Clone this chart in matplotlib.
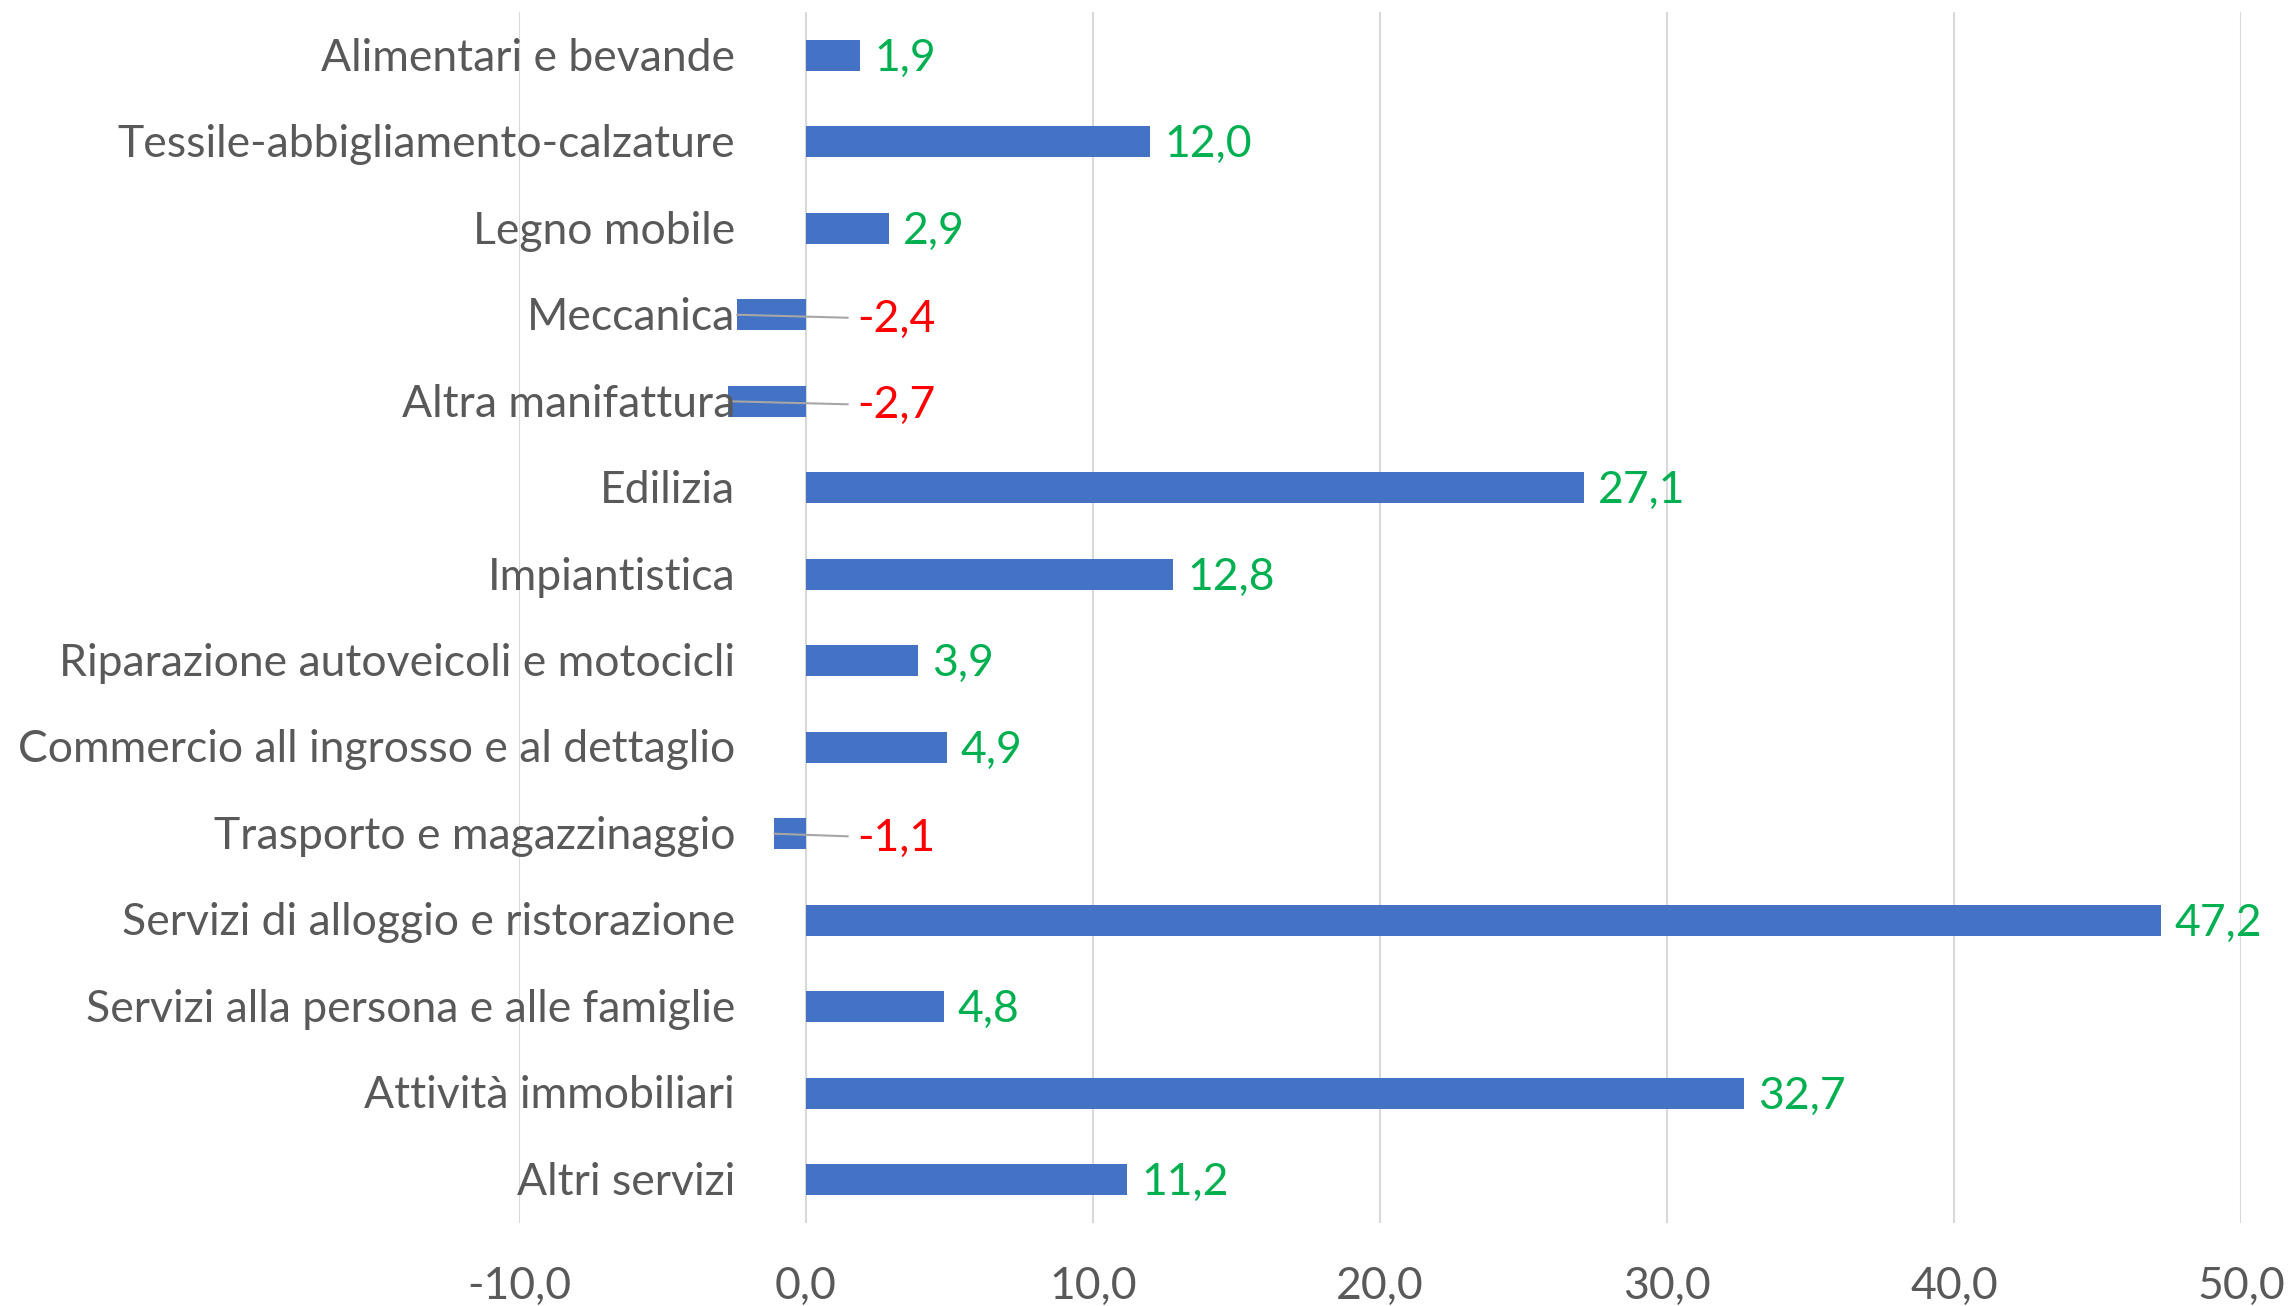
import matplotlib
matplotlib.use("Agg")
import matplotlib.pyplot as plt

plt.rcParams['font.family'] = ['Lato', 'DejaVu Sans']

categories = [
    "Alimentari e bevande",
    "Tessile-abbigliamento-calzature",
    "Legno mobile",
    "Meccanica",
    "Altra manifattura",
    "Edilizia",
    "Impiantistica",
    "Riparazione autoveicoli e motocicli",
    "Commercio all ingrosso e al dettaglio",
    "Trasporto e magazzinaggio",
    "Servizi di alloggio e ristorazione",
    "Servizi alla persona e alle famiglie",
    "Attività immobiliari",
    "Altri servizi",
]
values = [1.9, 12.0, 2.9, -2.4, -2.7, 27.1, 12.8, 3.9, 4.9, -1.1, 47.2, 4.8, 32.7, 11.2]
xticks = [-10, 0, 10, 20, 30, 40, 50]

bar_col = '#4472C4'
txt_col = '#595959'
fs = 32

def fmt(v):
    return f"{v:.1f}".replace('.', ',')

fig = plt.figure(figsize=(22.89, 13.06), dpi=100)
ax = fig.add_axes([0.2267, 0.0636, 0.979 - 0.2267, 0.9908 - 0.0636])

pos = list(range(len(categories)))
ax.barh(pos, values, height=0.36, color=bar_col, zorder=3)

ax.set_xlim(-10, 50)
ax.set_ylim(len(categories) - 0.5, -0.5)
ax.set_xticks(xticks)
ax.set_xticklabels([fmt(t) for t in xticks], fontsize=fs, color=txt_col)
ax.set_yticks([])
ax.tick_params(axis='x', length=0, pad=31)
ax.grid(axis='x', color='#D9D9D9', linewidth=1.5, zorder=0)
for s in ax.spines.values():
    s.set_visible(False)

# category labels sit left of the zero line, like excel does
for i, c in enumerate(categories):
    ax.annotate(c, xy=(0, i), xytext=(-51, -2), textcoords='offset points',
                ha='right', va='center', fontsize=fs, color=txt_col, zorder=4)

# data labels
for i, v in enumerate(values):
    if v >= 0:
        ax.annotate(fmt(v), xy=(v, i), xytext=(10, -2), textcoords='offset points',
                    ha='left', va='center', fontsize=fs, color='#00B050')
    else:
        ax.annotate(fmt(v), xy=(v, i), xytext=(1.8, i + 0.05),
                    ha='left', va='center', fontsize=fs, color='#FF0000',
                    arrowprops=dict(arrowstyle='-', color='#A6A6A6', lw=1.5,
                                    shrinkA=5, shrinkB=0))

fig.savefig("out.png", dpi=100)
